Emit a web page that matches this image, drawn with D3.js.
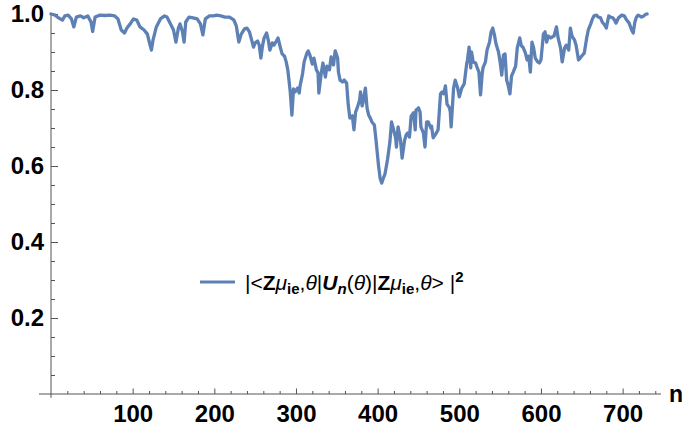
<!DOCTYPE html>
<html><head><meta charset="utf-8">
<script src="https://cdn.jsdelivr.net/npm/d3@7"></script>
<style>body{margin:0;background:#fff}svg{display:block}</style>
</head><body>
<svg id="c" width="686" height="431"></svg>
<script>
// ---- data ----
const nValues = [0,5,9,14,17,21,25,28,31,36,40,45,49,51,54,60,66,72,78,82,86,90,93,97,101,105,109,114,118,121,123,125,129,134,139,142,
147,150,153,156,158,161,163,165,169,174,179,183,186,189,194,199,203,208,213,218,222,224,227,230,233,237,240,243,245,248,250,253,255,257,259,261,264,266,268,271,273,276,278,281,283,286,288,290,293,295,297,299,302,304,305,308,310,313,315,317,320,322,325,327,328,331,333,336,338,341,343,346,348,351,352,354,357,359,362,364,366,369,371,373,375,378,379,381,382,385,387,389,391,393,396,398,401,403,405,407,409,412,415,417,419,422,423,425,428,430,433,435,437,439,
441,444,446,447,450,452,453,456,458,460,462,465,466,468,471,474,477,479,481,483,485,488,489,490,493,495,498,500,503,506,509,510,512,514,515,517,520,522,524,526,528,529,532,534,537,539,541,543,545,548,550,552,554,556,558,560,562,564,566,569,571,574,576,578,581,583,
585,587,589,591,593,596,598,600,603,605,607,609,612,614,616,619,621,624,626,629,631,634,636,638,641,643,646,648,651,653,656,658,661,663,665,668,670,673,675,678,680,683,685,688,690,692,695,699,702,705,708,711,713,715,717,719,723,726,728,730];
const fidelity = [1.000,0.997,0.990,0.984,0.995,0.997,0.987,0.966,0.992,0.995,0.990,0.995,0.979,0.954,0.992,0.997,0.996,0.997,0.995,0.987,0.958,0.950,0.963,0.974,0.987,0.984,0.966,0.958,0.947,0.921,0.905,0.932,0.966,0.987,0.995,0.992,
0.971,0.958,0.926,0.963,0.974,0.953,0.926,0.979,0.992,0.990,0.987,0.974,0.945,0.987,0.995,0.995,0.997,0.995,0.992,0.992,0.987,0.984,0.968,0.926,0.947,0.961,0.963,0.953,0.937,0.913,0.924,0.929,0.918,0.884,0.916,0.937,0.950,0.932,0.905,0.924,0.918,0.929,0.937,0.911,0.895,0.889,0.874,0.853,0.795,0.734,0.803,0.795,0.805,0.792,0.811,0.842,0.874,0.895,0.903,0.892,0.868,0.884,0.853,0.845,0.792,0.845,0.871,0.834,0.863,0.853,0.887,0.866,0.903,0.884,0.847,0.826,0.821,0.826,0.818,0.761,0.726,0.732,0.695,0.742,0.753,0.774,0.795,0.758,0.766,0.805,0.753,0.734,0.726,0.716,0.708,0.668,0.603,0.568,0.555,0.568,0.579,0.616,0.663,0.716,0.700,0.674,0.650,0.703,0.668,0.621,0.668,0.682,0.687,0.676,
0.731,0.740,0.695,0.747,0.753,0.742,0.703,0.687,0.650,0.716,0.716,0.700,0.705,0.674,0.684,0.695,0.790,0.795,0.790,0.811,0.763,0.753,0.742,0.703,0.805,0.826,0.805,0.782,0.805,0.816,0.868,0.879,0.913,0.858,0.900,0.874,0.871,0.858,0.847,0.787,0.842,0.858,0.874,0.905,0.926,0.953,0.963,0.945,0.921,0.900,0.874,0.839,0.892,0.895,0.826,0.811,0.790,0.837,0.847,0.863,0.911,0.937,0.916,0.913,0.897,0.879,
0.889,0.847,0.926,0.911,0.884,0.874,0.871,0.879,0.947,0.953,0.926,0.942,0.937,0.940,0.942,0.966,0.937,0.911,0.874,0.911,0.918,0.905,0.963,0.942,0.932,0.918,0.879,0.884,0.892,0.897,0.937,0.958,0.974,0.987,0.995,0.997,0.992,0.990,0.979,0.971,0.963,0.995,0.992,0.990,0.984,0.976,0.990,0.997,0.995,0.984,0.976,0.958,0.950,0.979,0.992,0.997,0.992,0.995,0.999,1.000];
const xMajorTicks = [100,200,300,400,500,600,700];
const xMinorTicks = [20,40,60,80,120,140,160,180,220,240,260,280,320,340,360,380,420,440,460,480,520,540,560,580,620,640,660,680,720,740];
const yMajorTicks = [0.2,0.4,0.6,0.8,1.0];
const yMinorTicks = [0.05,0.1,0.15,0.25,0.3,0.35,0.45,0.5,0.55,0.65,0.7,0.75,0.85,0.9,0.95];
const xAxisLabel = "n";

// ---- drawing ----
const svg = d3.select("#c");
const FONT = "'Liberation Sans', Arial, sans-serif";
const axisColor = "#555";
const lineColor = "#5E81B5";

const x = d3.scaleLinear().domain([0, 747]).range([51, 661]);
const y = d3.scaleLinear().domain([0, 1]).range([394, 14]);

// x axis
const gx = svg.append("g").attr("transform", `translate(0,${y(0)})`);
gx.append("line").attr("x1", x(-14.7)).attr("x2", x(747)).attr("y1", 0).attr("y2", 0)
  .attr("stroke", axisColor).attr("stroke-width", 1);
gx.append("g").call(d3.axisBottom(x).tickValues(xMinorTicks).tickSizeInner(-3).tickSizeOuter(0).tickFormat(""));
const gxMajor = gx.append("g").call(d3.axisBottom(x).tickValues(xMajorTicks).tickSizeInner(-5.5).tickSizeOuter(0).tickPadding(11).tickFormat(d3.format("d")));
gx.selectAll(".domain").remove();
gx.selectAll(".tick line").attr("stroke", axisColor);
gxMajor.selectAll("text").attr("font-family", FONT).attr("font-size", 24).attr("font-weight", "bold").attr("fill", "#000");

// y axis
const gy = svg.append("g").attr("transform", `translate(${x(0)},0)`);
gy.append("line").attr("x1", 0).attr("x2", 0).attr("y1", y(-0.01)).attr("y2", y(1.003))
  .attr("stroke", axisColor).attr("stroke-width", 1);
gy.append("g").call(d3.axisLeft(y).tickValues(yMinorTicks).tickSizeInner(-4).tickSizeOuter(0).tickFormat(""));
const gyMajor = gy.append("g").call(d3.axisLeft(y).tickValues(yMajorTicks).tickSizeInner(-7).tickSizeOuter(0).tickPadding(7).tickFormat(d3.format(".1f")));
gy.selectAll(".domain").remove();
gy.selectAll(".tick line").attr("stroke", axisColor);
gyMajor.selectAll("text").attr("font-family", FONT).attr("font-size", 24).attr("font-weight", "bold").attr("fill", "#000");

// axis label
svg.append("text").attr("x", 669).attr("y", 402).attr("font-family", FONT).attr("font-size", 23)
  .attr("font-weight", "bold").attr("fill", "#000").text(xAxisLabel);

// series line
const pts = nValues.map((n, i) => [n, fidelity[i]]);
svg.append("path").datum(pts)
  .attr("fill", "none").attr("stroke", lineColor).attr("stroke-width", 3.3)
  .attr("stroke-linejoin", "round").attr("stroke-linecap", "round")
  .attr("d", d3.line().x(d => x(d[0])).y(d => y(d[1])));

// legend
const leg = svg.append("g");
leg.append("line").attr("x1", 200).attr("x2", 235).attr("y1", 282).attr("y2", 282)
  .attr("stroke", lineColor).attr("stroke-width", 3);
const parts = [
  {t:"|<"},{t:"Z",b:1},{t:"\u03BC",i:1},{t:"ie",b:1,sub:1},{t:","},{t:"\u03B8",i:1},{t:"|"},
  {t:"U",b:1,i:1},{t:"n",b:1,i:1,sub:1},{t:"("},{t:"\u03B8",i:1},{t:")|"},
  {t:"Z",b:1},{t:"\u03BC",i:1},{t:"ie",b:1,sub:1},{t:","},{t:"\u03B8",i:1},{t:"> |"},{t:"2",b:1,sup:1}
];
const lt = leg.append("text").attr("x", 245).attr("y", 290).attr("font-family", FONT).attr("font-size", 21).attr("fill", "#000");
let cur = 0;
parts.forEach(p => {
  const target = p.sub ? 4 : (p.sup ? -8 : 0);
  const ts = lt.append("tspan").attr("dy", target - cur).text(p.t);
  cur = target;
  if (p.b) ts.attr("font-weight", "bold");
  if (p.i) ts.attr("font-style", "italic");
  if (p.sub || p.sup) ts.attr("font-size", 15);
});
</script>
</body></html>
